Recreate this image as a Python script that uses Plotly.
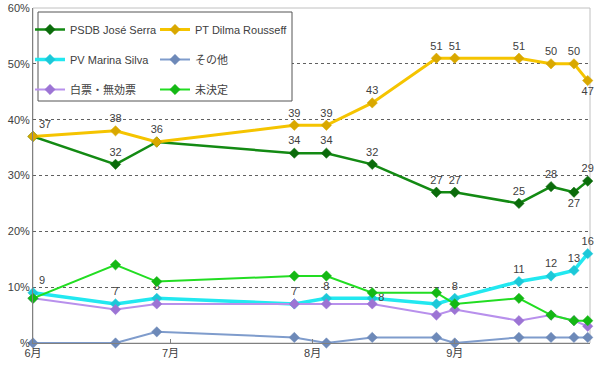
import plotly.graph_objects as go

dates = ["2010-06-01", "2010-06-19", "2010-06-28", "2010-07-28", "2010-08-04", "2010-08-14",
         "2010-08-28", "2010-09-01", "2010-09-15", "2010-09-22", "2010-09-27", "2010-09-30"]

serra = [37, 32, 36, 34, 34, 32, 27, 27, 25, 28, 27, 29]
dilma = [37, 38, 36, 39, 39, 43, 51, 51, 51, 50, 50, 47]
marina = [9, 7, 8, 7, 8, 8, 7, 8, 11, 12, 13, 16]
others = [0, 0, 2, 1, 0, 1, 1, 0, 1, 1, 1, 1]
blank = [8, 6, 7, 7, 7, 7, 5, 6, 4, 5, 4, 3]
undecided = [8, 14, 11, 12, 12, 9, 9, 7, 8, 5, 4, 4]

names = ["PSDB José Serra", "PT Dilma Rousseff", "PV Marina Silva", "その他", "白票・無効票", "未決定"]
y_ticks = [0, 10, 20, 30, 40, 50, 60]
y_ticktext = ["%", "10%", "20%", "30%", "40%", "50%", "60%"]
x_ticks = ["2010-06-01", "2010-07-01", "2010-08-01", "2010-09-01"]
x_ticktext = ["6月", "7月", "8月", "9月"]

FONT = "Liberation Sans, Noto Sans CJK JP, sans-serif"
TXT = "#404040"

fig = go.Figure()


def add(y, name, color, mcolor, width, legend, group, labels=None, positions=None):
    kw = {}
    mode = "lines+markers"
    if labels is not None:
        mode = "lines+markers+text"
        kw = dict(text=labels, textposition=positions,
                  textfont=dict(size=11, color=TXT, family=FONT))
    fig.add_trace(go.Scatter(
        x=dates, y=y, name=name, mode=mode,
        line=dict(color=color, width=width),
        marker=dict(symbol="diamond", size=8, color=mcolor,
                    line=dict(color=mcolor, width=0.5)),
        legend=legend, legendgroup=group, cliponaxis=False, **kw))


serra_lbl = [str(v) for v in serra]
serra_lbl[0] = ""
serra_lbl[2] = ""
serra_pos = ["top center"] * 12
serra_pos[10] = "bottom center"
dilma_lbl = [str(v) for v in dilma]
dilma_pos = ["top center"] * 12
dilma_pos[0] = "top right"
dilma_pos[11] = "bottom center"
marina_lbl = [str(v) for v in marina]
marina_pos = ["top center"] * 12
marina_pos[0] = "top right"
marina_pos[5] = "middle right"

add(serra, names[0], "#138a13", "#0b6b0b", 2.5, "legend", "g1", serra_lbl, serra_pos)
add(dilma, names[1], "#f5c400", "#d9a800", 3, "legend2", "g2", dilma_lbl, dilma_pos)
add(marina, names[2], "#22e8f0", "#1cc8d8", 3.5, "legend", "g3", marina_lbl, marina_pos)
add(others, names[3], "#7f9ccc", "#6d89b8", 2, "legend2", "g4")
add(blank, names[4], "#b890ec", "#9c74d4", 2, "legend", "g5")
add(undecided, names[5], "#22dd22", "#14b814", 2, "legend2", "g6")

PW = 557.0
PH = 335.0


def px_x(p):
    return (p - 33) / PW


def px_y(p):
    return (343 - p) / PH


legend_common = dict(
    bgcolor="rgba(0,0,0,0)", borderwidth=0,
    font=dict(size=11, color=TXT, family=FONT),
    yanchor="top", xanchor="left", tracegroupgap=11,
    itemwidth=30,
)

fig.update_layout(
    width=600, height=373,
    margin=dict(l=33, r=10, t=8, b=30),
    paper_bgcolor="white", plot_bgcolor="white",
    font=dict(family=FONT, size=11, color=TXT),
    showlegend=True,
    legend=dict(x=px_x(30), y=px_y(15), **legend_common),
    legend2=dict(x=px_x(155), y=px_y(15), **legend_common),
    shapes=[
        dict(type="rect", xref="paper", yref="paper", x0=0, x1=1, y0=0, y1=1,
             line=dict(color="#c0c0c0", width=1), layer="below"),
        dict(type="rect", xref="paper", yref="paper",
             x0=px_x(38), x1=px_x(292), y0=px_y(101), y1=px_y(12),
             line=dict(color="#555555", width=1), fillcolor="white", layer="above"),
    ],
    xaxis=dict(
        type="date", range=["2010-06-01", "2010-09-30 12:00"],
        tickvals=x_ticks, ticktext=x_ticktext, automargin=False,
        ticks="inside", ticklen=4, tickcolor="#808080",
        showgrid=False, showline=True, linecolor="#808080", linewidth=1,
        zeroline=False, tickfont=dict(size=11, color=TXT, family=FONT),
    ),
    yaxis=dict(
        range=[0, 60], tickvals=y_ticks, ticktext=y_ticktext, automargin=False,
        showgrid=True, gridcolor="#606060", griddash="dot", gridwidth=1,
        showline=True, linecolor="#808080", linewidth=1,
        zeroline=False, ticks="", tickfont=dict(size=11, color=TXT, family=FONT),
    ),
)

fig.write_html("out.html", config={"displayModeBar": False},
               post_script="document.body.style.margin='0';document.body.style.overflow='hidden';")
